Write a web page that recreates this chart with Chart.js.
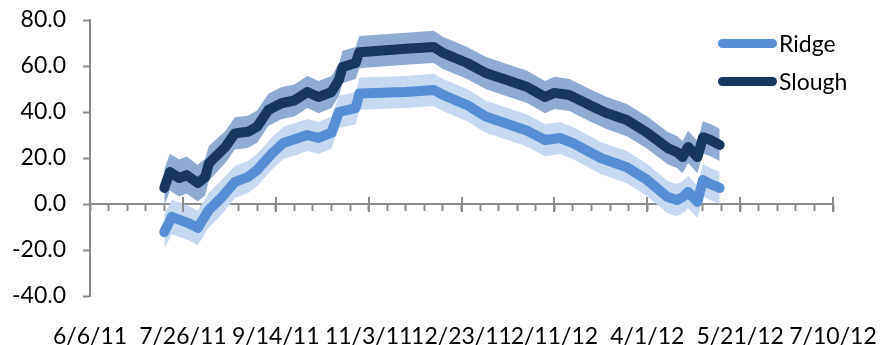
<!DOCTYPE html>
<html>
<head>
<meta charset="utf-8">
<script src="https://cdn.jsdelivr.net/npm/chart.js@4"></script>
<style>
  html, body { margin: 0; padding: 0; background: #fff; }
  #wrap { position: relative; width: 881px; height: 345px; }
  .legend { position: absolute; left: 718px; font-family: Lato, sans-serif; font-size: 23px; color: #000; display: flex; align-items: center; }
  .legend span.swatch { display: inline-block; width: 59px; height: 9px; border-radius: 5px; margin-right: 2px; }
</style>
</head>
<body>
<div id="wrap">
  <canvas id="chart" width="881" height="345"></canvas>
  <div class="legend" style="top:29px"><span class="swatch" style="background:#558ED5"></span>Ridge</div>
  <div class="legend" style="top:67px"><span class="swatch" style="background:#17375E"></span>Slough</div>
</div>
<script>
const startDate = '2011-06-06';
const xTickLabels = ['6/6/11', '7/26/11', '9/14/11', '11/3/11', '12/23/11', '2/11/12', '4/1/12', '5/21/12', '7/10/12'];
const yTicks = [-40, -20, 0, 20, 40, 60, 80];

const ridgeDates = ['2011-07-16', '2011-07-20', '2011-07-29', '2011-08-03', '2011-08-09', '2011-08-16', '2011-08-23', '2011-08-30',
    '2011-09-04', '2011-09-12', '2011-09-18', '2011-09-23', '2011-10-01', '2011-10-07', '2011-10-14', '2011-10-18', '2011-10-27',
    '2011-10-29', '2011-11-23', '2011-12-08', '2011-12-13', '2011-12-26', '2012-01-05', '2012-01-16', '2012-01-27', '2012-02-06',
    '2012-02-14', '2012-02-21', '2012-03-07', '2012-03-21', '2012-04-01', '2012-04-12', '2012-04-17', '2012-04-20', '2012-04-23',
    '2012-04-28', '2012-05-01', '2012-05-05', '2012-05-10'];
const ridgeValues = [-12.2, -5.6, -8.3, -10.4, -2.6, 3.0, 9.6, 11.7,
    14.8, 22.0, 26.5, 27.8, 30.0, 28.7, 31.0, 40.0, 41.7,
    48.0, 48.7, 49.6, 47.4, 43.0, 38.0, 35.0, 32.0, 27.8,
    28.7, 26.5, 20.0, 16.0, 10.4, 3.0, 1.7, 3.0, 5.2,
    0.9, 10.4, 8.6, 7.0];
const ridgeErrors = [7.5, 7.5, 7.5, 7.5, 7.5, 7.5, 7, 7,
    7, 7, 7, 7, 7, 7, 7, 7, 7,
    7, 7, 7, 7, 7, 7, 7, 7, 7,
    7, 7, 7, 7, 7, 7, 7, 7, 7,
    7, 7, 7, 7];

const sloughDates = ['2011-07-16', '2011-07-19', '2011-07-24', '2011-07-28', '2011-08-03', '2011-08-07', '2011-08-09', '2011-08-18',
    '2011-08-23', '2011-08-30', '2011-09-04', '2011-09-10', '2011-09-17', '2011-09-24', '2011-10-01', '2011-10-07', '2011-10-14',
    '2011-10-18', '2011-10-20', '2011-10-27', '2011-10-29', '2011-11-23', '2011-12-08', '2011-12-13', '2011-12-26', '2012-01-05',
    '2012-01-16', '2012-01-27', '2012-02-06', '2012-02-11', '2012-02-19', '2012-03-01', '2012-03-10', '2012-03-21', '2012-04-01',
    '2012-04-12', '2012-04-17', '2012-04-20', '2012-04-23', '2012-04-28', '2012-05-01', '2012-05-05', '2012-05-10'];
const sloughValues = [7.0, 13.9, 11.3, 12.6, 9.1, 11.7, 17.7, 24.9,
    30.7, 31.4, 33.6, 40.9, 43.8, 45.0, 48.7, 46.5, 48.7,
    54.0, 59.6, 61.3, 66.0, 67.5, 68.3, 65.7, 61.3, 57.0,
    54.0, 51.0, 46.5, 48.3, 47.4, 43.0, 39.6, 36.5, 31.0,
    24.3, 22.6, 20.4, 24.8, 20.4, 29.0, 27.8, 25.7];
const sloughErrors = [8, 8, 8, 8, 8, 8, 7.5, 7,
    7, 7, 7, 7, 7, 7, 7, 7, 7,
    7, 7, 7, 7, 7, 7, 7, 7, 7,
    7, 7, 7, 7, 7, 7, 7, 7, 7,
    7, 7, 7, 7, 7, 7, 7, 7];

const axisGray = '#8c8c8c';
const dayMs = 86400000;
const toDay = d => (new Date(d) - new Date(startDate)) / dayMs;

const points = (dates, values, errors, sign) =>
    dates.map((d, i) => ({ x: toDay(d), y: values[i] + sign * (errors ? errors[i] : 0) }));

const band = (dates, values, errors, color, fill) => [
    { data: points(dates, values, errors, 1), borderWidth: 0, pointRadius: 0, backgroundColor: color, fill: fill, order: 10 },
    { data: points(dates, values, errors, -1), borderWidth: 0, pointRadius: 0, fill: false, order: 10 }
];

const noPad = s => { s.paddingLeft = 0; s.paddingRight = 0; s.paddingTop = 0; s.paddingBottom = 0; };

// upward half of the major (50 day) tick marks on the zero axis
const majorTicks = {
    id: 'majorTicks',
    afterDraw(chart) {
        const ctx = chart.ctx;
        const xs = chart.scales.x;
        const y0 = chart.scales.y.getPixelForValue(0);
        ctx.save();
        ctx.strokeStyle = axisGray;
        ctx.lineWidth = 2;
        for (let v = xs.min; v <= xs.max; v += 50) {
            const px = Math.round(xs.getPixelForValue(v));
            ctx.beginPath();
            ctx.moveTo(px, y0 - 7);
            ctx.lineTo(px, y0 + 8);
            ctx.stroke();
        }
        ctx.restore();
    }
};

Chart.defaults.font.family = 'Lato';
Chart.defaults.font.size = 23;
Chart.defaults.color = '#000';

new Chart(document.getElementById('chart'), {
    type: 'line',
    data: {
        datasets: [
            ...band(ridgeDates, ridgeValues, ridgeErrors, '#C6D9F0', '+1'),
            ...band(sloughDates, sloughValues, sloughErrors, '#8FABD1', '+1'),
            {
                label: 'Ridge',
                data: points(ridgeDates, ridgeValues, null, 0),
                borderColor: '#558ED5',
                borderWidth: 10,
                borderCapStyle: 'round',
                borderJoinStyle: 'round',
                pointRadius: 0,
                fill: false,
                order: 1
            },
            {
                label: 'Slough',
                data: points(sloughDates, sloughValues, null, 0),
                borderColor: '#17375E',
                borderWidth: 10,
                borderCapStyle: 'round',
                borderJoinStyle: 'round',
                pointRadius: 0,
                fill: false,
                order: 0
            }
        ]
    },
    options: {
        responsive: false,
        animation: false,
        layout: { padding: { left: 0, right: 48, top: 20, bottom: 0 } },
        plugins: {
            legend: { display: false },
            tooltip: { enabled: false }
        },
        scales: {
            x: {
                type: 'linear',
                position: { y: 0 },
                min: 0,
                max: 400,
                ticks: { display: false, stepSize: 10 },
                grid: { drawOnChartArea: false, tickLength: 6, tickWidth: 2, tickColor: axisGray },
                border: { color: axisGray, width: 2 },
                afterFit: noPad
            },
            xLabels: {
                type: 'linear',
                position: 'bottom',
                min: 0,
                max: 400,
                ticks: {
                    stepSize: 50,
                    autoSkip: false,
                    maxRotation: 0,
                    padding: 19,
                    callback: v => xTickLabels[Math.round(v / 50)]
                },
                grid: { display: false },
                border: { display: false },
                afterFit: s => { noPad(s); s.height = 49; }
            },
            y: {
                min: yTicks[0],
                max: yTicks[yTicks.length - 1],
                afterBuildTicks: s => { s.ticks = yTicks.map(v => ({ value: v })); },
                ticks: { padding: 17, callback: v => v.toFixed(1) },
                grid: { drawOnChartArea: false, tickLength: 7, tickWidth: 2, tickColor: axisGray },
                border: { color: axisGray, width: 2 },
                afterFit: s => { noPad(s); s.width = 90; }
            }
        }
    },
    plugins: [majorTicks]
});
</script>
</body>
</html>
